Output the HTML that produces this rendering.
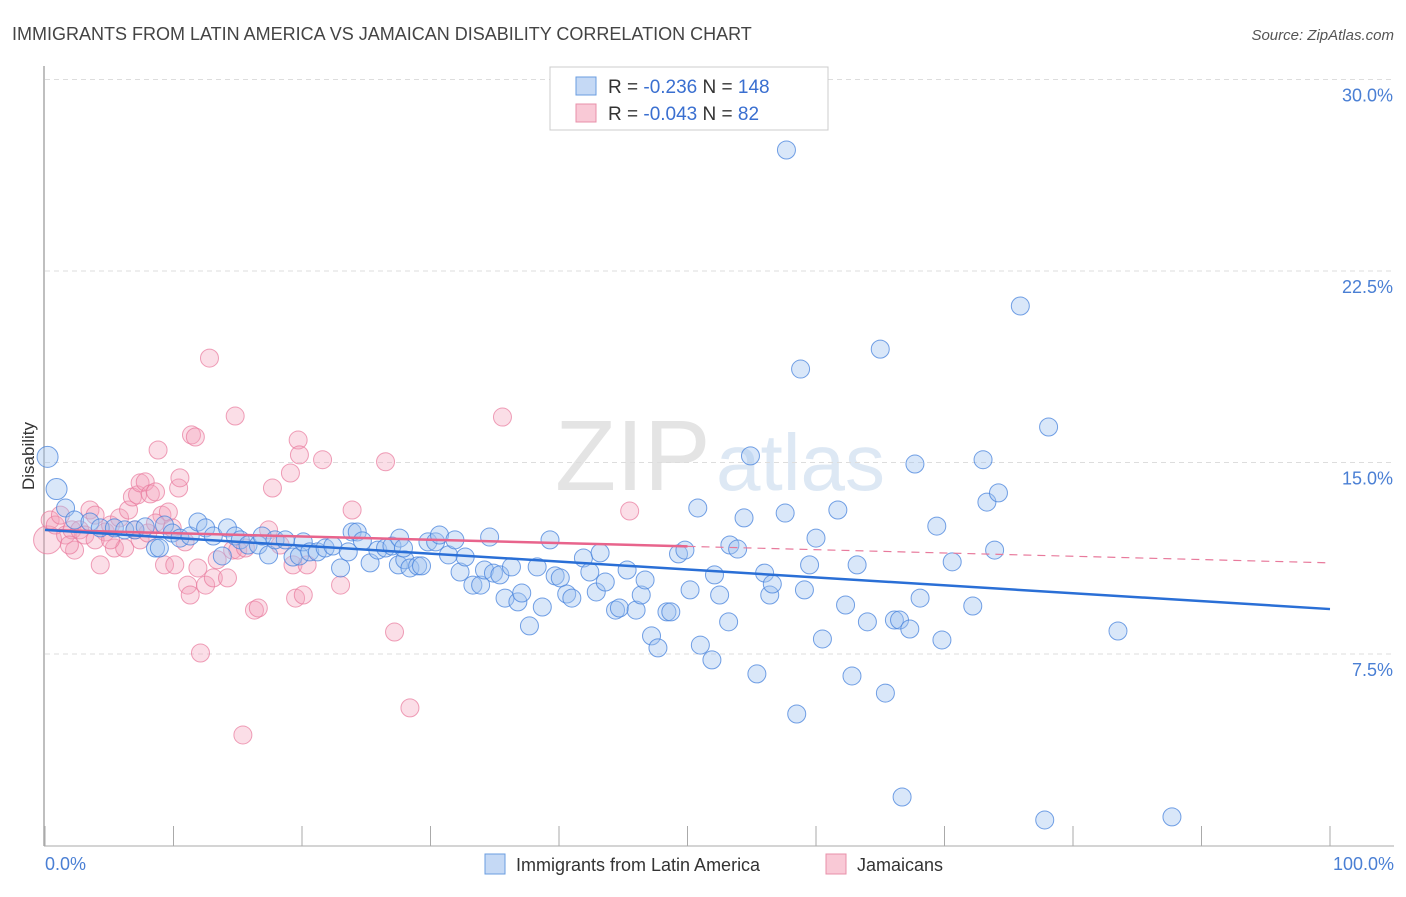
<!DOCTYPE html>
<html><head><meta charset="utf-8"><style>
body{margin:0;background:#fff;font-family:"Liberation Sans",sans-serif;}
svg text{font-family:"Liberation Sans",sans-serif;}
</style></head><body>
<svg id="chart" width="1406" height="892" xmlns="http://www.w3.org/2000/svg">
<text x="12" y="40" font-size="18" fill="#444">IMMIGRANTS FROM LATIN AMERICA VS JAMAICAN DISABILITY CORRELATION CHART</text>
<text x="1394" y="40" font-size="15" fill="#555" text-anchor="end" font-style="italic">Source: ZipAtlas.com</text>
<text x="555" y="490" font-size="100" fill="#e4e4e4" font-family="Liberation Serif" >ZIP</text>
<text x="716" y="490" font-size="80" fill="#dde8f4">atlas</text>
<g id="grid"></g>
<line x1="44" y1="66" x2="44" y2="846" stroke="#aaa" stroke-width="1.5"/>
<line x1="44" y1="846" x2="1394" y2="846" stroke="#aaa" stroke-width="1"/>
<text transform="translate(34,456) rotate(-90)" font-size="17" fill="#333" text-anchor="middle">Disability</text>
<text x="45" y="870" font-size="18" fill="#4a7fd4">0.0%</text>
<text x="1394" y="870" font-size="18" fill="#4a7fd4" text-anchor="end">100.0%</text>
<g id="pts"></g>
<g id="trend"></g>
<g>
<rect x="550" y="67" width="278" height="63" fill="#fff" stroke="#ccc"/>
<rect x="576" y="77" width="20" height="18" fill="#c5d9f5" stroke="#6a9de0"/>
<rect x="576" y="104" width="20" height="18" fill="#f9c9d6" stroke="#e890aa"/>
<text x="608" y="93" font-size="19" fill="#333">R = <tspan fill="#3a6fd0">-0.236</tspan>   N = <tspan fill="#3a6fd0">148</tspan></text>
<text x="608" y="120" font-size="19" fill="#333">R = <tspan fill="#3a6fd0">-0.043</tspan>   N =  <tspan fill="#3a6fd0"> 82</tspan></text>
</g>
<g>
<rect x="485" y="854" width="20" height="20" fill="#c5d9f5" stroke="#6a9de0"/>
<text x="516" y="871" font-size="18" fill="#333">Immigrants from Latin America</text>
</g>
<g>
<rect x="826" y="854" width="20" height="20" fill="#f9c9d6" stroke="#e890aa"/>
<text x="857" y="871" font-size="18" fill="#333">Jamaicans</text>
</g>
</svg>
<script>
const yTicks=[7.5,15.0,22.5,30.0];
const xTicks=[0,10,20,30,40,50,60,70,80,90,100];
const blueX=[0.2,0.9,1.6,2.3,3.5,4.3,5.4,6.2,7.0,7.8,8.6,8.9,9.3,9.9,10.5,11.3,11.9,12.5,13.1,13.8,14.2,14.8,15.2,15.8,16.6,16.9,17.4,17.9,18.7,19.3,19.8,20.1,20.6,21.2,21.8,22.4,23.0,23.6,23.9,24.3,24.7,25.3,25.9,26.5,27.0,27.5,28.0,28.4,29.0,29.3,27.6,27.9,29.8,30.4,30.7,31.4,31.9,32.3,32.7,33.3,33.9,34.2,34.6,34.9,35.4,35.8,36.3,36.8,37.1,37.7,38.3,38.7,39.3,39.7,40.1,40.6,41.0,41.9,42.4,42.9,43.2,43.6,44.4,44.7,45.3,46.0,46.4,46.7,47.2,47.7,48.4,48.7,49.3,49.8,50.2,50.8,51.0,51.9,52.1,52.5,53.2,53.3,53.9,54.4,54.9,55.4,56.0,56.4,56.6,57.6,57.7,58.5,58.8,59.1,59.5,60.0,60.5,61.7,62.3,62.8,63.2,64.0,65.0,65.4,66.1,66.5,66.7,67.3,67.7,68.1,69.4,69.8,70.6,72.2,73.0,73.3,73.9,74.2,75.9,77.8,78.1,83.5,87.7];
const blueY=[15.22,13.96,13.22,12.75,12.67,12.44,12.44,12.36,12.36,12.48,11.65,11.65,12.55,12.24,12.04,12.12,12.67,12.44,12.12,11.34,12.44,12.12,11.97,11.77,11.77,12.12,11.38,11.97,11.97,11.30,11.34,11.89,11.50,11.50,11.65,11.73,10.87,11.50,12.28,12.28,11.93,11.07,11.57,11.65,11.73,10.99,11.19,10.87,10.95,10.95,12.04,11.65,11.89,11.89,12.16,11.38,11.97,10.71,11.30,10.20,10.20,10.79,12.08,10.67,10.60,9.69,10.91,9.54,9.89,8.60,10.91,9.34,11.97,10.56,10.48,9.85,9.69,11.26,10.71,9.93,11.46,10.32,9.22,9.30,10.79,9.22,9.81,10.40,8.21,7.74,9.15,9.15,11.42,11.57,10.01,13.22,7.85,7.27,10.60,9.81,8.76,11.77,11.61,12.83,15.26,6.72,10.67,9.81,10.24,13.02,27.24,5.15,18.66,10.01,10.99,12.04,8.09,13.14,9.42,6.64,10.99,8.76,19.44,5.97,8.83,8.83,1.90,8.48,14.94,9.69,12.51,8.05,11.11,9.38,15.11,13.45,11.57,13.81,21.13,1.00,16.39,8.40,1.12];
const pinkX=[0.2,0.4,0.8,1.2,1.6,2.1,2.3,2.7,3.1,3.5,3.9,4.3,4.7,5.1,5.4,5.8,6.2,6.5,6.8,7.2,7.4,7.8,8.2,8.6,8.8,9.1,9.3,9.6,9.9,10.4,10.5,10.9,11.1,11.4,11.7,11.9,12.1,12.5,12.8,13.1,13.4,14.2,14.6,14.8,15.0,15.4,15.6,16.3,16.6,17.4,17.7,18.3,19.1,19.3,19.5,19.7,19.8,20.1,20.4,21.6,23.0,23.9,26.5,27.2,28.4,35.6,45.5,1.9,3.9,5.1,7.0,7.4,8.0,8.6,10.1,11.3];
const pinkY=[11.97,12.75,12.55,12.94,12.16,12.36,11.57,12.36,12.16,13.14,12.94,10.99,12.28,12.55,11.65,12.83,11.65,13.14,13.65,13.73,14.20,14.24,13.77,13.85,15.49,12.94,10.99,13.06,12.44,14.0,14.40,11.89,10.20,16.08,16.0,10.87,7.54,10.20,19.09,10.48,11.19,10.48,11.57,16.82,11.57,4.33,11.65,9.22,9.30,12.36,14.0,11.77,14.59,10.99,9.69,15.88,15.30,9.81,10.99,15.11,10.20,13.14,15.03,8.36,5.39,16.78,13.10,11.77,11.97,11.97,12.36,11.97,12.24,12.63,10.99,9.81];
const blueTrend=[12.36,9.26];
const pinkTrend=[12.36,11.07];
const pinkSolidEnd=50;

const NS="http://www.w3.org/2000/svg";
const X=v=>45+v*12.85;
const Y=v=>845.5-v*25.533;
function mk(tag,attrs,parent){const e=document.createElementNS(NS,tag);for(const k in attrs)e.setAttribute(k,attrs[k]);parent.appendChild(e);return e;}
const grid=document.getElementById('grid');
yTicks.forEach(t=>{
  const l=mk('line',{x1:45,x2:1394,y1:Y(t),y2:Y(t),stroke:'#ddd','stroke-dasharray':'5,4'},grid);
  
  
  const tx=mk('text',{x:1393,y:Y(t)+22,'font-size':18,fill:'#4a7fd4','text-anchor':'end'},grid);
  tx.textContent=t.toFixed(1)+'%';
  
  
});
xTicks.forEach(t=>{
  const l=mk('line',{x1:X(t),x2:X(t),y1:826,y2:846,stroke:'#aaa'},grid);
  
  
});
const pts=document.getElementById('pts');
const n2=Math.min(pinkX.length,pinkY.length);
for(let i=0;i<n2;i++){
  const c=mk('circle',{cx:X(pinkX[i]),cy:Y(pinkY[i]),r:i===0?14:9,fill:'rgba(244,160,185,0.35)',stroke:'rgba(232,120,155,0.7)','stroke-width':1},pts);
  
  
}
const n1=Math.min(blueX.length,blueY.length);
for(let i=0;i<n1;i++){
  const c=mk('circle',{cx:X(blueX[i]),cy:Y(blueY[i]),r:(i<2)?10.5:9,fill:'rgba(160,195,240,0.4)',stroke:'rgba(70,130,220,0.75)','stroke-width':1},pts);
  
  
}
const tr=document.getElementById('trend');
const pAt=x=>pinkTrend[0]+(pinkTrend[1]-pinkTrend[0])*x/100;
let l=mk('line',{x1:X(pinkSolidEnd),y1:Y(pAt(pinkSolidEnd)),x2:X(100),y2:Y(pAt(100)),stroke:'#e87a9c','stroke-width':1.2,'stroke-dasharray':'8,6'},tr);


l=mk('line',{x1:X(0),y1:Y(pinkTrend[0]),x2:X(pinkSolidEnd),y2:Y(pAt(pinkSolidEnd)),stroke:'#e8648c','stroke-width':2.5},tr);


l=mk('line',{x1:X(0),y1:Y(blueTrend[0]),x2:X(100),y2:Y(blueTrend[1]),stroke:'#2a6fd6','stroke-width':2.5},tr);


</script>
</body></html>
